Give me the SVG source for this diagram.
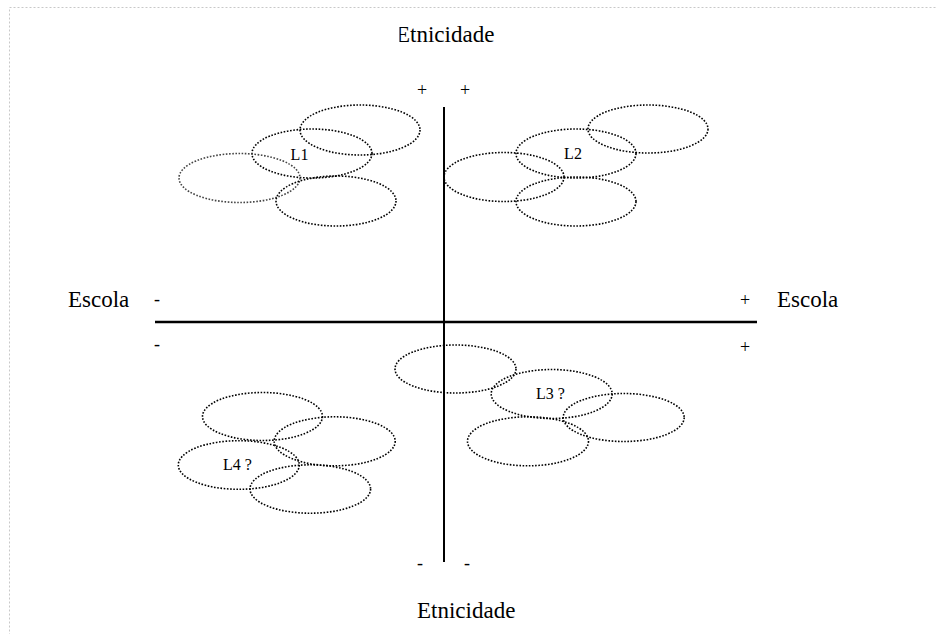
<svg xmlns="http://www.w3.org/2000/svg" width="937" height="634" viewBox="0 0 937 634">
<style>
text{font-family:"Liberation Serif","Times New Roman",serif;fill:#000}
.ax{font-size:23px}
.sg{font-size:18px}
.lb{font-size:16px}
.el{fill:none;stroke:#000;stroke-width:1.6;stroke-dasharray:1.6 1.6}
.axis{stroke:#000;fill:none}
</style>
<defs>
<clipPath id="topclip"><rect x="399.5" y="20" width="120" height="30"/></clipPath>
</defs>
<rect x="9.5" y="7.5" width="940" height="640" fill="none" stroke="#c8c8c8" stroke-width="1" stroke-dasharray="2 2"/>
<g id="axes">
<line class="axis" x1="444" y1="107" x2="444" y2="562" stroke-width="2"/>
<line class="axis" x1="155" y1="322" x2="757" y2="322" stroke-width="2.5"/>
</g>
<g id="axis-labels">
<text class="ax" x="396" y="42" clip-path="url(#topclip)">Etnicidade</text>
<text class="ax" x="417" y="618">Etnicidade</text>
<text class="ax" x="68" y="307">Escola</text>
<text class="ax" x="777" y="307">Escola</text>
<text class="sg" x="422" y="96" text-anchor="middle">+</text>
<text class="sg" x="465" y="96" text-anchor="middle">+</text>
<text class="sg" x="157" y="305" text-anchor="middle">-</text>
<text class="sg" x="157" y="350" text-anchor="middle">-</text>
<text class="sg" x="745" y="306" text-anchor="middle">+</text>
<text class="sg" x="745" y="353" text-anchor="middle">+</text>
<text class="sg" x="420" y="569" text-anchor="middle">-</text>
<text class="sg" x="467" y="569" text-anchor="middle">-</text>
</g>
<g id="L1">
<ellipse class="el" cx="360" cy="130" rx="60" ry="25"/>
<ellipse class="el" cx="312" cy="153.5" rx="60" ry="24.5"/>
<ellipse class="el" cx="239.5" cy="178" rx="60.5" ry="24.5" style="stroke:#444"/>
<ellipse class="el" cx="336" cy="201" rx="60" ry="25"/>
<text class="lb" x="299.5" y="160" text-anchor="middle">L1</text>
</g>
<g id="L2">
<ellipse class="el" cx="648" cy="129" rx="60" ry="24"/>
<ellipse class="el" cx="576" cy="153.5" rx="60" ry="24.5"/>
<ellipse class="el" cx="504" cy="177" rx="60" ry="24.5"/>
<ellipse class="el" cx="576" cy="201.5" rx="60" ry="24.5"/>
<text class="lb" x="573" y="159" text-anchor="middle">L2</text>
</g>
<g id="L3">
<ellipse class="el" cx="455.5" cy="369" rx="60.5" ry="24"/>
<ellipse class="el" cx="551.7" cy="394" rx="60.5" ry="24.5"/>
<ellipse class="el" cx="623.7" cy="417.5" rx="60.5" ry="24"/>
<ellipse class="el" cx="528" cy="441.3" rx="60.5" ry="24.5"/>
<text class="lb" x="550.5" y="399" text-anchor="middle">L3 ?</text>
</g>
<g id="L4">
<ellipse class="el" cx="262.5" cy="416.5" rx="60" ry="24"/>
<ellipse class="el" cx="334.7" cy="441.3" rx="60.5" ry="24.5"/>
<ellipse class="el" cx="238.8" cy="465" rx="60.5" ry="24.3"/>
<ellipse class="el" cx="310.3" cy="489" rx="60.3" ry="24.2"/>
<text class="lb" x="237.5" y="470" text-anchor="middle">L4 ?</text>
</g>
</svg>
